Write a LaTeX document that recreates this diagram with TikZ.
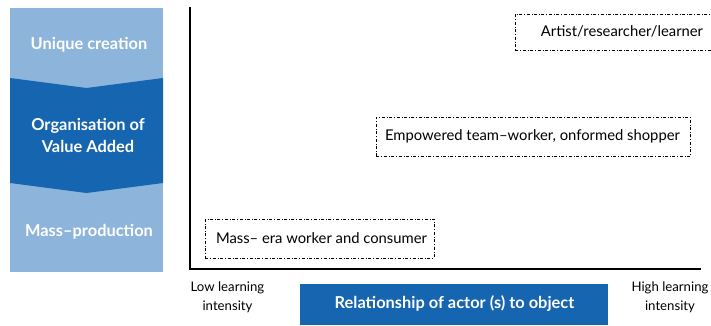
\documentclass[tikz,border=0pt]{standalone}
\usepackage{fontspec}
\setmainfont{Lato}
\definecolor{lightband}{HTML}{8DB4DA}
\definecolor{darkband}{HTML}{1565B0}
\begin{document}
\begin{tikzpicture}[x=1pt,y=-1pt,
  bandtext/.style={text=white,font=\fontsize{16.4}{22}\selectfont\bfseries,align=center},
  rolebox/.style={draw=black,dash dot,line width=0.6pt,inner sep=0pt},
  roletext/.style={font=\fontsize{14.8}{18}\selectfont},
  axislabel/.style={font=\fontsize{13.2}{19.5}\selectfont,align=center},
  axis/.style={line width=2pt}]
\useasboundingbox (0,0) rectangle (711,325);
% left column
\fill[lightband] (10,8) rectangle (163,272);
\fill[darkband] (10,78) -- (86.5,88) -- (163,78) -- (163,183) -- (86.5,193) -- (10,183) -- cycle;
\node[bandtext] (uc) at (89,45) {Unique creation};
\node[bandtext] (ov) at (88,135) {Organisation of\\Value Added};
\node[bandtext] (mp) at (89,232) {Mass–production};
% axes
\coordinate (top) at (189.5,7);
\coordinate (origin) at (189.5,269);
\coordinate (right) at (701,269);
\draw[axis] (top) -- (origin) -- (right);
% role boxes
\node[rolebox,minimum width=200pt,minimum height=36pt,anchor=north west] (art) at (515,13.5) {};
\node[roletext] (artt) at (622,31.5) {Artist/researcher/learner};
\node[rolebox,minimum width=314pt,minimum height=39pt,anchor=north west] (emp) at (376,117) {};
\node[roletext] (empt) at (532.5,136) {Empowered team–worker, onformed shopper};
\node[rolebox,minimum width=228.5pt,minimum height=39pt,anchor=north west] (mass) at (205,218.5) {};
\node[roletext] (masst) at (321.5,238) {Mass– era worker and consumer};
% x labels
\node[axislabel] (low) at (227.5,297.5) {Low learning\\intensity};
\node[axislabel] (high) at (670,297.5) {High learning\\intensity};
\fill[darkband] (300,284) rectangle (608,325);
\node[text=white,font=\fontsize{16.4}{20}\selectfont\bfseries] (rel) at (454.5,303.5) {Relationship of actor (s) to object};
\end{tikzpicture}
\end{document}
